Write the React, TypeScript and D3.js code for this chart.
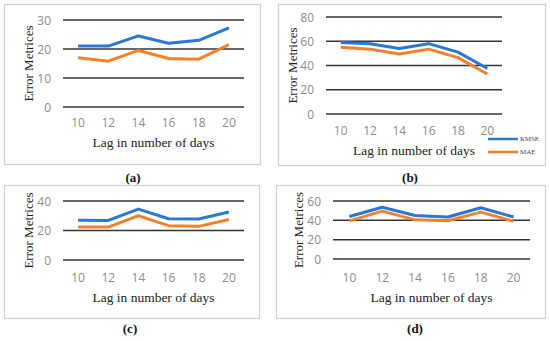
import * as d3 from 'd3';
import { useEffect, useRef } from 'react';

const lags = ['10', '12', '14', '16', '18', '20'];

const rmseA = [21, 21, 24.5, 22, 23, 27.3];
const maeA = [17, 15.8, 19.5, 16.7, 16.5, 21.5];
const rmseB = [59, 58, 54, 58, 51, 37.5];
const maeB = [55, 53.5, 49.5, 53.5, 46.5, 33];
const rmseC = [27, 26.8, 34.5, 28, 27.8, 32.5];
const maeC = [22.3, 22.3, 30, 23.3, 22.8, 27.5];
const rmseD = [44, 53.5, 45, 43.5, 53, 43.5];
const maeD = [39.5, 49.5, 40.5, 39.5, 48.5, 39];

const ticksA = [0, 10, 20, 30];
const ticksB = [0, 20, 40, 60, 80];
const ticksC = [0, 20, 40];
const ticksD = [0, 20, 40, 60];

const seriesNames = ['RMSE', 'MAE'];
const panelLabels = ['(a)', '(b)', '(c)', '(d)'];

const BLUE = '#2a78d2';
const ORANGE = '#f5802a';

interface Panel {
  label: string;
  rmse: number[];
  mae: number[];
  ticks: number[];
  box: [number, number, number, number];
  xRange: [number, number];
  yRange: [number, number];
  yTitleX: number;
  tickY: number;
  titleY: number;
  labelX: number;
  labelY: number;
  legend?: boolean;
}

const panels: Panel[] = [
  { label: panelLabels[0], rmse: rmseA, mae: maeA, ticks: ticksA, box: [4, 4, 260, 164], xRange: [63, 244], yRange: [107, 20], yTitleX: 28, tickY: 122, titleY: 142, labelX: 133, labelY: 177 },
  { label: panelLabels[1], rmse: rmseB, mae: maeB, ticks: ticksB, box: [278, 4, 545, 165], xRange: [326, 502], yRange: [114, 17], yTitleX: 292, tickY: 130, titleY: 150, labelX: 410, labelY: 177, legend: true },
  { label: panelLabels[2], rmse: rmseC, mae: maeC, ticks: ticksC, box: [4, 185, 259, 318], xRange: [63, 244], yRange: [260, 201], yTitleX: 28, tickY: 277, titleY: 297, labelX: 130, labelY: 328 },
  { label: panelLabels[3], rmse: rmseD, mae: maeD, ticks: ticksD, box: [276, 185, 545, 318], xRange: [333, 530], yRange: [259, 201], yTitleX: 298, tickY: 277, titleY: 297, labelX: 415, labelY: 328 },
];

export default function App() {
  const svgRef = useRef<SVGSVGElement>(null);

  useEffect(() => {
    if (!svgRef.current) return;
    const svg = d3.select(svgRef.current);
    svg.selectAll('*').remove();
    svg.append('rect').attr('width', 550).attr('height', 341).attr('fill', '#fff');

    panels.forEach((p) => {
      const [x0, y0, x1, y1] = p.box;
      const g = svg.append('g');

      g.append('rect')
        .attr('x', x0 + 0.5)
        .attr('y', y0 + 0.5)
        .attr('width', x1 - x0)
        .attr('height', y1 - y0)
        .attr('fill', '#fff')
        .attr('stroke', '#cfcfcf')
        .attr('stroke-width', 1.2);

      const x = d3.scaleBand<string>().domain(lags).range(p.xRange);
      const y = d3
        .scaleLinear()
        .domain([0, d3.max(p.ticks) as number])
        .range(p.yRange);

      // gridlines
      g.selectAll('line.grid')
        .data(p.ticks)
        .enter()
        .append('line')
        .attr('x1', p.xRange[0])
        .attr('x2', p.xRange[1])
        .attr('y1', (d) => y(d))
        .attr('y2', (d) => y(d))
        .attr('stroke', '#333')
        .attr('stroke-width', 1.5);

      // y tick labels
      g.selectAll('text.ytick')
        .data(p.ticks)
        .enter()
        .append('text')
        .attr('x', p.xRange[0] - 12)
        .attr('y', (d) => y(d))
        .attr('text-anchor', 'end')
        .attr('dominant-baseline', 'central')
        .attr('fill', '#8c8c8c')
        .style('font-family', '"Open Sans", "Liberation Sans", sans-serif')
        .style('font-size', '12px')
        .text((d) => String(d));

      // x tick labels
      g.selectAll('text.xtick')
        .data(lags)
        .enter()
        .append('text')
        .attr('x', (d) => (x(d) as number) + x.bandwidth() / 2)
        .attr('y', p.tickY)
        .attr('text-anchor', 'middle')
        .attr('dominant-baseline', 'central')
        .attr('fill', '#8c8c8c')
        .style('font-family', '"Open Sans", "Liberation Sans", sans-serif')
        .style('font-size', '12px')
        .text((d) => d);

      // lines
      const line = d3
        .line<number>()
        .x((_, i) => (x(lags[i]) as number) + x.bandwidth() / 2)
        .y((d) => y(d));

      [p.rmse, p.mae].forEach((vals, i) => {
        g.append('path')
          .attr('d', line(vals) || '')
          .attr('fill', 'none')
          .attr('stroke', i === 0 ? BLUE : ORANGE)
          .attr('stroke-width', 3)
          .attr('stroke-linejoin', 'round');
      });

      // axis titles
      const cx = (p.xRange[0] + p.xRange[1]) / 2;
      g.append('text')
        .attr('x', cx)
        .attr('y', p.titleY)
        .attr('text-anchor', 'middle')
        .attr('dominant-baseline', 'central')
        .attr('fill', '#222')
        .style('font-family', '"Liberation Serif", "Times New Roman", serif')
        .style('font-size', '13.5px')
        .text('Lag in number of days');

      const cy = (p.yRange[0] + p.yRange[1]) / 2;
      g.append('text')
        .attr('transform', `translate(${p.yTitleX},${cy}) rotate(-90)`)
        .attr('text-anchor', 'middle')
        .attr('dominant-baseline', 'central')
        .attr('fill', '#222')
        .style('font-family', '"Liberation Serif", "Times New Roman", serif')
        .style('font-size', '13px')
        .text('Error Metrices');

      if (p.legend) {
        seriesNames.forEach((name, i) => {
          const ly = 139 + i * 13;
          g.append('line')
            .attr('x1', 488)
            .attr('x2', 518)
            .attr('y1', ly)
            .attr('y2', ly)
            .attr('stroke', i === 0 ? BLUE : ORANGE)
            .attr('stroke-width', 2.5);
          g.append('text')
            .attr('x', 520)
            .attr('y', ly)
            .attr('dominant-baseline', 'central')
            .attr('fill', '#444')
            .style('font-family', '"Liberation Serif", serif')
            .style('font-size', '7px')
            .text(name);
        });
      }

      // panel label
      svg.append('text')
        .attr('x', p.labelX)
        .attr('y', p.labelY)
        .attr('text-anchor', 'middle')
        .attr('dominant-baseline', 'central')
        .attr('fill', '#111')
        .style('font-family', '"Liberation Serif", "Times New Roman", serif')
        .style('font-size', '13px')
        .style('font-weight', 'bold')
        .text(p.label);
    });
  }, []);

  return (
    <svg
      ref={svgRef}
      width={550}
      height={341}
      style={{ position: 'absolute', left: 0, top: 0, display: 'block' }}
    />
  );
}
